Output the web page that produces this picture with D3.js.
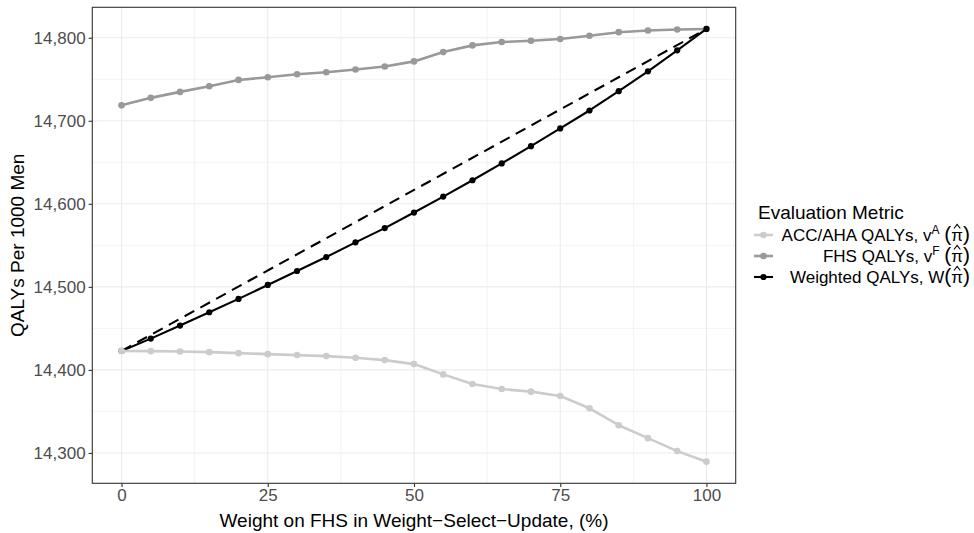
<!DOCTYPE html>
<html>
<head>
<meta charset="utf-8">
<script src="https://cdn.jsdelivr.net/npm/d3@7/dist/d3.min.js"></script>
<style>
  body { margin: 0; background: #ffffff; }
  text { font-family: "Liberation Sans", Arial, Helvetica, sans-serif; }
</style>
</head>
<body>
<svg id="chart" width="974" height="533"></svg>
<script>
// Weight on FHS (%) used in the weight-select-update rule
const weights = [0, 5, 10, 15, 20, 25, 30, 35, 40, 45, 50, 55, 60, 65, 70, 75, 80, 85, 90, 95, 100];

// QALYs per 1000 men under each evaluation metric
const accQalys = [14422.8, 14422.6, 14422.2, 14421.4, 14420.2, 14419.0, 14417.8, 14416.6, 14414.6, 14411.8,
                  14407.0, 14394.6, 14383.0, 14377.0, 14373.8, 14368.5, 14353.8, 14333.4, 14317.8, 14302.2, 14289.5];
const fhsQalys = [14718.6, 14727.6, 14734.8, 14741.5, 14749.2, 14752.4, 14756.0, 14758.4, 14761.7, 14765.3,
                  14771.5, 14782.7, 14790.8, 14794.8, 14796.4, 14798.4, 14802.4, 14806.7, 14808.8, 14810.0, 14810.6];
const weightedQalys = [14422.8, 14437.7, 14453.4, 14469.4, 14485.5, 14502.3, 14519.1, 14535.9, 14553.6, 14570.8,
                       14589.5, 14608.7, 14628.4, 14648.6, 14669.4, 14690.8, 14712.4, 14735.6, 14759.6, 14784.8, 14810.6];

const xTicks = [0, 25, 50, 75, 100];
const yTicks = [14300, 14400, 14500, 14600, 14700, 14800];

const legendTitle = "Evaluation Metric";
const seriesColors = ["#cccccc", "#999999", "#000000"];

const svg = d3.select("#chart");
const W = 974, H = 533;
svg.append("rect").attr("width", W).attr("height", H).attr("fill", "#ffffff");

// panel box
const panel = { left: 92.3, right: 735.7, top: 7.3, bottom: 483.3 };

// ggplot-style 5% expansion of the data range
const xMin = d3.min(weights), xMax = d3.max(weights);
const xPad = (xMax - xMin) * 0.05;
const allY = accQalys.concat(fhsQalys, weightedQalys);
const yMin = d3.min(allY), yMax = d3.max(allY);
const yPad = (yMax - yMin) * 0.05;

const x = d3.scaleLinear().domain([xMin - xPad, xMax + xPad]).range([panel.left, panel.right]);
const y = d3.scaleLinear().domain([yMin - yPad, yMax + yPad]).range([panel.bottom, panel.top]);

const gridColor = "#ebebeb";
const g = svg.append("g");

// minor grid lines halfway between the major ticks
const xMinor = d3.range(xTicks.length - 1).map(i => (xTicks[i] + xTicks[i + 1]) / 2);
const yMinor = d3.range(yTicks.length + 1).map(i => yTicks[0] - 50 + i * 100)
  .filter(v => v > y.domain()[0] && v < y.domain()[1]);

g.selectAll("line.xminor").data(xMinor).join("line")
  .attr("x1", d => x(d)).attr("x2", d => x(d))
  .attr("y1", panel.top).attr("y2", panel.bottom)
  .attr("stroke", gridColor).attr("stroke-width", 0.6);
g.selectAll("line.yminor").data(yMinor).join("line")
  .attr("x1", panel.left).attr("x2", panel.right)
  .attr("y1", d => y(d)).attr("y2", d => y(d))
  .attr("stroke", gridColor).attr("stroke-width", 0.6);
g.selectAll("line.xmajor").data(xTicks).join("line")
  .attr("x1", d => x(d)).attr("x2", d => x(d))
  .attr("y1", panel.top).attr("y2", panel.bottom)
  .attr("stroke", gridColor).attr("stroke-width", 1.1);
g.selectAll("line.ymajor").data(yTicks).join("line")
  .attr("x1", panel.left).attr("x2", panel.right)
  .attr("y1", d => y(d)).attr("y2", d => y(d))
  .attr("stroke", gridColor).attr("stroke-width", 1.1);

// series
const series = [
  { values: fhsQalys, color: seriesColors[1], width: 2.6, r: 3.3 },
  { values: weightedQalys, color: seriesColors[2], width: 2.1, r: 3.1 },
  { values: accQalys, color: seriesColors[0], width: 2.6, r: 3.3 }
];

const line = d3.line().x((d, i) => x(weights[i])).y(d => y(d));

// straight reference line between the two end points of the weighted metric
const chord = [
  [weights[0], weightedQalys[0]],
  [weights[weights.length - 1], weightedQalys[weightedQalys.length - 1]]
];
g.append("path")
  .attr("d", d3.line().x(d => x(d[0])).y(d => y(d[1]))(chord))
  .attr("fill", "none").attr("stroke", "#000000")
  .attr("stroke-width", 2.1).attr("stroke-dasharray", "11,7");

series.forEach(s => {
  g.append("path").attr("d", line(s.values))
    .attr("fill", "none").attr("stroke", s.color)
    .attr("stroke-width", s.width).attr("stroke-linejoin", "round");
  g.selectAll(null).data(s.values).join("circle")
    .attr("cx", (d, i) => x(weights[i])).attr("cy", d => y(d))
    .attr("r", s.r).attr("fill", s.color);
});

// panel border
g.append("rect")
  .attr("x", panel.left).attr("y", panel.top)
  .attr("width", panel.right - panel.left).attr("height", panel.bottom - panel.top)
  .attr("fill", "none").attr("stroke", "#333333").attr("stroke-width", 1.1);

// axes
const fmt = d3.format(",");
const xAxis = d3.axisBottom(x).tickValues(xTicks).tickSize(3.7).tickPadding(1.5);
const yAxis = d3.axisLeft(y).tickValues(yTicks).tickFormat(fmt).tickSize(3.7).tickPadding(3);

const xg = svg.append("g").attr("transform", `translate(0,${panel.bottom})`).call(xAxis);
const yg = svg.append("g").attr("transform", `translate(${panel.left},0)`).call(yAxis);
[xg, yg].forEach(a => {
  a.select(".domain").remove();
  a.selectAll(".tick line").attr("stroke", "#333333").attr("stroke-width", 1.1);
  a.selectAll(".tick text").attr("fill", "#4d4d4d").attr("font-size", 17)
    .attr("font-family", "'Liberation Sans', Arial, sans-serif");
});

// axis titles
svg.append("text")
  .attr("x", (panel.left + panel.right) / 2).attr("y", 527)
  .attr("text-anchor", "middle").attr("font-size", 19).attr("fill", "#000000")
  .text("Weight on FHS in Weight\u2212Select\u2212Update, (%)");

svg.append("text")
  .attr("transform", `translate(24,${(panel.top + panel.bottom) / 2}) rotate(-90)`)
  .attr("text-anchor", "middle").attr("font-size", 19).attr("fill", "#000000")
  .text("QALYs Per 1000 Men");

// legend
const legend = svg.append("g");
legend.append("text")
  .attr("x", 758).attr("y", 219)
  .attr("font-size", 19).attr("fill", "#000000")
  .text(legendTitle);

const legendItems = [
  { color: seriesColors[0], width: 2.6, r: 3.3,
    parts: [{ t: "ACC/AHA QALYs, v" }, { t: "A", sup: true }, { t: " " }, { t: "(", paren: true }, { t: "\u03c0", hat: true }, { t: ")", paren: true }] },
  { color: seriesColors[1], width: 2.6, r: 3.3,
    parts: [{ t: "FHS QALYs, v" }, { t: "F", sup: true }, { t: " " }, { t: "(", paren: true }, { t: "\u03c0", hat: true }, { t: ")", paren: true }] },
  { color: seriesColors[2], width: 2.1, r: 3.1,
    parts: [{ t: "Weighted QALYs, W" }, { t: "(", paren: true }, { t: "\u03c0", hat: true }, { t: ")", paren: true }] }
];
const rowY = [235, 256, 277];

legendItems.forEach((item, k) => {
  const cy = rowY[k];
  legend.append("line")
    .attr("x1", 754).attr("x2", 773).attr("y1", cy).attr("y2", cy)
    .attr("stroke", item.color).attr("stroke-width", item.width);
  legend.append("circle").attr("cx", 763.5).attr("cy", cy).attr("r", item.r).attr("fill", item.color);

  const txt = legend.append("text")
    .attr("x", 970).attr("y", cy + 6)
    .attr("text-anchor", "end").attr("font-size", 17).attr("fill", "#000000");
  let raised = false;
  let hatIndex = -1, count = 0;
  item.parts.forEach(p => {
    const ts = txt.append("tspan").text(p.t);
    if (p.sup) {
      ts.attr("font-size", 12).attr("dy", -7);
      raised = true;
    } else if (raised) {
      ts.attr("dy", 7);
      raised = false;
    }
    if (p.paren) ts.attr("font-size", 21);
    if (p.hat) hatIndex = count;
    count += p.t.length;
  });
  // circumflex accent over the pi
  if (hatIndex >= 0) {
    const ext = txt.node().getExtentOfChar(hatIndex);
    const hx = ext.x + ext.width / 2;
    const hy = cy - 10;
    legend.append("path")
      .attr("d", `M${hx - 3.2},${hy + 3.5} L${hx},${hy - 0.5} L${hx + 3.2},${hy + 3.5}`)
      .attr("fill", "none").attr("stroke", "#000000").attr("stroke-width", 1.1);
  }
});
</script>
</body>
</html>
